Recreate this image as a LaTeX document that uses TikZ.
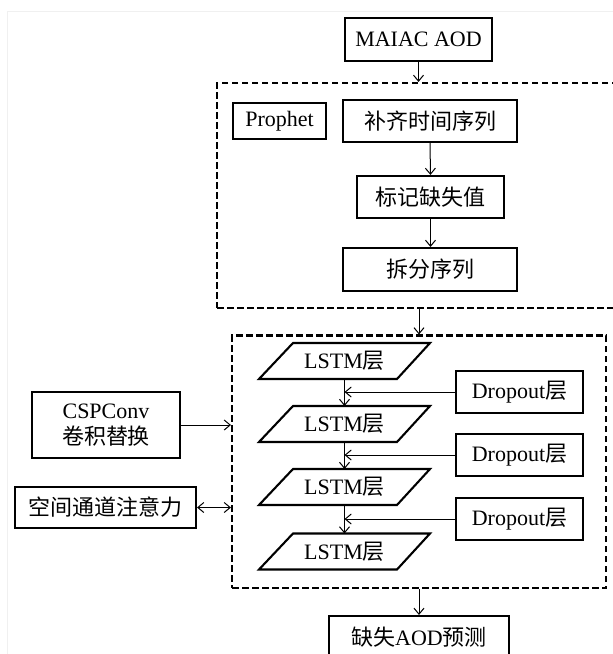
\documentclass[tikz,border=0pt]{standalone}
\usepackage{fontspec}
\setmainfont{Liberation Serif}
\newfontfamily\cjk{Noto Sans CJK SC}
\usetikzlibrary{calc,arrows.meta}
\begin{document}
\begin{tikzpicture}[x=1pt,y=-1pt,
  txt/.style={font=\fontsize{22}{26}\selectfont, align=center, inner sep=0pt},
  box/.style={txt, draw, line width=2.1pt},
  thinbox/.style={txt, draw, line width=1.2pt},
  grp/.style={draw, dash pattern=on 6.5pt off 3.5pt, line width=2.1pt, inner sep=0pt},
  arr/.style={-{Straight Barb[length=6pt,width=10pt]}, line width=1pt},
  darr/.style={{Straight Barb[length=6pt,width=10pt]}-{Straight Barb[length=6pt,width=10pt]}, line width=1pt},
  para/.style={line width=2.1pt, line join=miter}
]
\useasboundingbox (0,0) rectangle (613,654);
\draw[gray!12, line width=0.8pt] (7,654) -- (7,11) -- (613,11);

% groups
\node[grp, minimum width=403pt, minimum height=225pt] (g1) at (418.5,195.5) {};
\node[grp, minimum width=374pt, minimum height=252.5pt] (g2) at (419,461.75) {};

% top part
\node[box, minimum width=147pt, minimum height=43pt] (m) at (418.5,39.5) {MAIAC AOD};
\node[thinbox, minimum width=93pt, minimum height=36pt] (p) at (279.5,121) {Prophet};
\node[box, minimum width=174pt, minimum height=42pt] (b1) at (430,121) {\cjk 补齐时间序列};
\node[box, minimum width=147pt, minimum height=42pt] (b2) at (430.5,197) {\cjk 标记缺失值};
\node[box, minimum width=174pt, minimum height=43pt] (b3) at (430,269.5) {\cjk 拆分序列};

% LSTM layers
\node[txt] (l1) at (344.5,361) {LSTM{\cjk 层}};
\node[txt] (l2) at (344.5,424) {LSTM{\cjk 层}};
\node[txt] (l3) at (344.5,487) {LSTM{\cjk 层}};
\node[txt] (l4) at (344.5,551.5) {LSTM{\cjk 层}};
\foreach \l in {l1,l2,l3,l4}{
  \draw[para] ($(\l)+(-51.5,-18)$) -- ($(\l)+(85.5,-18)$) -- ($(\l)+(52.5,18)$) -- ($(\l)+(-85.5,18)$) -- cycle;
}

% Dropout layers
\node[box, minimum width=127pt, minimum height=42pt] (d1) at (519.5,392) {Dropout{\cjk 层}};
\node[box, minimum width=127pt, minimum height=42pt] (d2) at (519.5,455) {Dropout{\cjk 层}};
\node[box, minimum width=127pt, minimum height=42pt] (d3) at (519.5,519) {Dropout{\cjk 层}};

% left inputs
\node[box, minimum width=148pt, minimum height=66pt] (c) at (106,425) {CSPConv\\{\cjk 卷积替换}};
\node[box, minimum width=181pt, minimum height=41pt] (s) at (105.5,507.5) {\cjk 空间通道注意力};

% output
\node[box, minimum width=180pt, minimum height=42pt] (o) at (419,637) {{\cjk 缺失}AOD{\cjk 预测}};

% connectors
\draw[arr] (m.south) -- (m.south |- g1.north);
\draw[arr] (b1.south) -- (b2.north);
\draw[arr] (b2.south) -- (b2.south |- b3.north);
\draw[arr] (g2.north |- g1.south) -- (g2.north);
\draw[arr] ($(l1)+(0,18)$) -- ($(l2)+(0,-18)$);
\draw[arr] ($(l2)+(0,18)$) -- ($(l3)+(0,-18)$);
\draw[arr] ($(l3)+(0,18)$) -- ($(l4)+(0,-18)$);
\draw[arr] (d1.west) -- (d1.west -| l1);
\draw[arr] (d2.west) -- (d2.west -| l2);
\draw[arr] (d3.west) -- (d3.west -| l3);
\draw[arr] (c.east) -- (c.east -| g2.west);
\draw[darr] (s.east) -- (s.east -| g2.west);
\draw[arr] (g2.south) -- (o.north);
\end{tikzpicture}
\end{document}
